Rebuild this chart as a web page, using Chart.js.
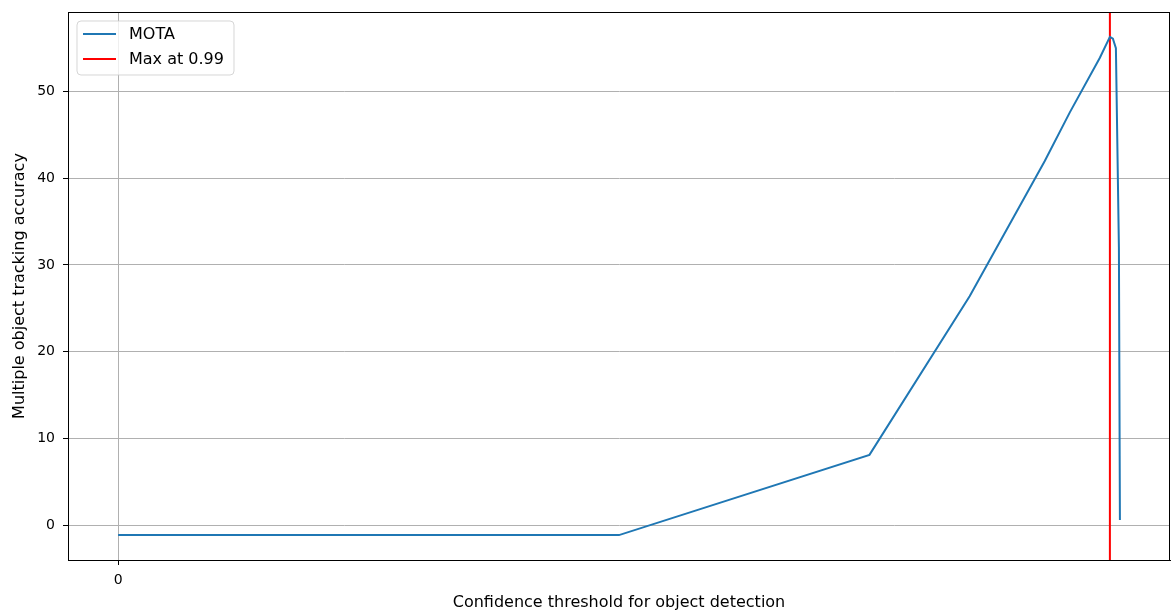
<!DOCTYPE html>
<html>
<head>
<meta charset="utf-8">
<script src="https://cdn.jsdelivr.net/npm/chart.js@4"></script>
<style>
  html, body { margin: 0; padding: 0; background: #fff; }
  #wrap { width: 1171px; height: 612px; }
</style>
</head>
<body>
<div id="wrap"><canvas id="c" width="1171" height="612"></canvas></div>
<script>
// Detection confidence thresholds and the resulting MOTA scores
const thresholds = [0, 0.5, 0.75, 0.85, 0.925, 0.95, 0.98, 0.99, 0.993, 0.996, 0.999, 1.0];
const motaValues = [-1.15, -1.15, 8.1, 26.4, 42.0, 47.6, 53.9, 56.3, 56.1, 55.0, 32.0, 0.6];
const bestThreshold = 0.99;
const xTickValues = [0];
const yTickValues = [0, 10, 20, 30, 40, 50];

const FONT = "'DejaVu Sans', sans-serif";

// Axis limits with a 5% margin around the data
const xMin = Math.min(...thresholds), xMax = Math.max(...thresholds);
const yMin = Math.min(...motaValues), yMax = Math.max(...motaValues);
const xPad = (xMax - xMin) * 0.05, yPad = (yMax - yMin) * 0.05;
const xLo = xMin - xPad, xHi = xMax + xPad;
const yLo = yMin - yPad, yHi = yMax + yPad;

const motaPoints = thresholds.map((t, i) => ({ x: t, y: motaValues[i] }));
const maxLine = [{ x: bestThreshold, y: yLo }, { x: bestThreshold, y: yHi }];

// Frame around the plot area and a boxed legend inside its top-left corner
const framePlugin = {
  id: 'frame',
  afterDatasetsDraw(chart) {
    const { ctx, chartArea: a } = chart;
    ctx.save();
    ctx.strokeStyle = '#000';
    ctx.lineWidth = 1;
    ctx.strokeRect(a.left + 0.5, a.top + 0.5, a.right - a.left - 1, a.bottom - a.top);
    ctx.restore();
  },
  afterDraw(chart) {
    const { ctx, chartArea: a } = chart;
    const bx = a.left + 9, by = a.top + 9, bw = 157, bh = 54, r = 4;
    ctx.save();
    ctx.fillStyle = 'rgba(255,255,255,0.8)';
    ctx.strokeStyle = 'rgba(204,204,204,0.8)';
    ctx.lineWidth = 1;
    ctx.beginPath();
    ctx.moveTo(bx + r, by);
    ctx.arcTo(bx + bw, by, bx + bw, by + bh, r);
    ctx.arcTo(bx + bw, by + bh, bx, by + bh, r);
    ctx.arcTo(bx, by + bh, bx, by, r);
    ctx.arcTo(bx, by, bx + bw, by, r);
    ctx.closePath();
    ctx.fill();
    ctx.stroke();
    ctx.font = '16px ' + FONT;
    ctx.textBaseline = 'middle';
    ctx.fillStyle = '#000';
    chart.data.datasets.forEach((ds, i) => {
      const ly = by + 13 + i * 25;
      ctx.strokeStyle = ds.borderColor;
      ctx.lineWidth = 2;
      ctx.beginPath();
      ctx.moveTo(bx + 6, ly);
      ctx.lineTo(bx + 39, ly);
      ctx.stroke();
      ctx.fillText(ds.label, bx + 52, ly + 1);
    });
    ctx.restore();
  }
};

new Chart(document.getElementById('c'), {
  type: 'line',
  data: {
    datasets: [
      {
        label: 'MOTA',
        data: motaPoints,
        borderColor: '#1f77b4',
        borderWidth: 2,
        pointRadius: 0,
        tension: 0,
        fill: false
      },
      {
        label: 'Max at ' + bestThreshold,
        data: maxLine,
        borderColor: '#ff0000',
        borderWidth: 2,
        pointRadius: 0,
        fill: false
      }
    ]
  },
  options: {
    responsive: false,
    animation: false,
    devicePixelRatio: 1,
    layout: { padding: { top: 12, right: 1, left: 0, bottom: 0 } },
    plugins: {
      legend: { display: false },
      tooltip: { enabled: false }
    },
    scales: {
      x: {
        type: 'linear',
        min: xLo,
        max: xHi,
        afterBuildTicks(scale) { scale.ticks = xTickValues.map(v => ({ value: v })); },
        afterFit(scale) { scale.height = 52; scale.paddingLeft = 0; scale.paddingRight = 0; },
        grid: { color: '#b0b0b0', lineWidth: 1, tickLength: 5, tickColor: '#000', drawTicks: true },
        border: { display: true, color: '#000', width: 1 },
        ticks: { color: '#000', font: { family: FONT, size: 14 }, padding: 7, maxRotation: 0 },
        title: {
          display: true,
          text: 'Confidence threshold for object detection',
          color: '#000',
          font: { family: FONT, size: 16 },
          padding: { top: 0, bottom: 0 }
        }
      },
      y: {
        type: 'linear',
        min: yLo,
        max: yHi,
        afterBuildTicks(scale) { scale.ticks = yTickValues.map(v => ({ value: v })); },
        afterFit(scale) { scale.width = 68; scale.paddingTop = 0; scale.paddingBottom = 0; },
        grid: { color: '#b0b0b0', lineWidth: 1, tickLength: 5, tickColor: '#000', drawTicks: true },
        border: { display: true, color: '#000', width: 1 },
        ticks: { color: '#000', font: { family: FONT, size: 14 }, padding: 8 },
        title: {
          display: true,
          text: 'Multiple object tracking accuracy',
          color: '#000',
          font: { family: FONT, size: 16 },
          padding: { top: 10, bottom: 0 }
        }
      }
    }
  },
  plugins: [framePlugin]
});
</script>
</body>
</html>
